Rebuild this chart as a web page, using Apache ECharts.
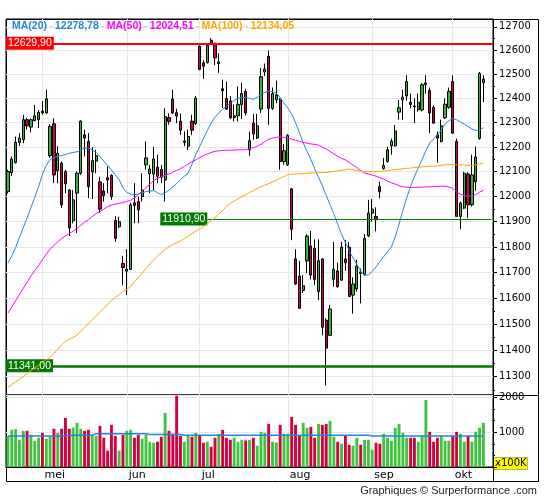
<!DOCTYPE html>
<html><head><meta charset="utf-8">
<script src="https://cdn.jsdelivr.net/npm/echarts@6/dist/echarts.min.js"></script>
<style>html,body{margin:0;padding:0;background:#fff}#c{width:545px;height:500px}</style>
</head><body><div id="c"></div>
<script>
// ---------- DATA ----------
const monthLabels = ['mei', 'jun', 'jul', 'aug', 'sep', 'okt'];
const monthStarts = [9, 31, 50, 73, 95, 116];
const slotCount = 127; // 125 trading days + 2 empty slots on the right

// [open, close, low, high]
const candles = [
[12020,12101,12012,12108],[12096,12151,12083,12162],[12137,12219,12133,12243],[12219,12237,12205,12257],[12230,12312,12216,12332],
[12312,12287,12272,12320],[12282,12312,12260,12317],[12308,12328,12306,12373],[12312,12342,12278,12352],[12347,12340,12333,12389],
[12340,12398,12336,12436],[12165,12284,12156,12294],[12295,12087,12054,12318],[12104,12175,12054,12204],[12135,11967,11954,12141],
[12101,12051,12014,12108],[12026,11875,11843,12030],[11904,11987,11893,12026],[12014,12094,11855,12101],[12094,12306,12087,12310],
[12250,12237,12162,12271],[12223,12040,11994,12257],[12099,12145,11990,12200],[12143,12165,12094,12189],[12059,11950,11935,12080],
[12022,12004,11980,12054],[12076,12067,12014,12122],[12085,12000,11987,12090],[11905,11834,11820,11922],[11880,11900,11874,11920],
[11735,11719,11650,11765],[11705,11712,11612,11791],[11712,11967,11710,11976],[11975,11965,11894,12054],[11980,11947,11894,12000],
[12000,12026,11980,12094],[12128,12156,12108,12223],[12091,12111,12014,12128],[12091,12152,12026,12200],[12118,12082,12054,12169],
[12110,12078,12054,12128],[12067,12325,11980,12359],[12321,12305,12291,12338],[12397,12340,12336,12436],[12341,12327,12298,12357],
[12306,12269,12250,12338],[12219,12225,12204,12264],[12204,12243,12189,12271],[12306,12269,12250,12332],[12296,12401,12291,12410],
[12618,12521,12517,12621],[12548,12534,12481,12559],[12549,12621,12545,12621],[12643,12630,12624,12652],[12630,12569,12538,12632],
[12545,12552,12506,12588],[12440,12432,12360,12477],[12400,12356,12352,12470],[12389,12320,12315,12410],[12321,12328,12305,12375],
[12328,12375,12305,12450],[12375,12420,12315,12465],[12429,12340,12330,12440],[12189,12226,12165,12264],[12298,12254,12230,12336],
[12237,12287,12233,12336],[12356,12490,12340,12526],[12510,12522,12493,12545],[12575,12359,12291,12600],[12359,12420,12352,12445],
[12394,12415,12380,12474],[12394,12141,12108,12401],[12141,12185,12128,12213],[12128,12248,12124,12253],[12031,11870,11827,12035],
[11753,11655,11651,11791],[11686,11561,11560,11746],[11630,11648,11620,11690],[11745,11843,11697,11850],[11804,11690,11673,11863],
[11795,11673,11651,11830],[11626,11746,11593,11830],[11753,11488,11457,11756],[11515,11408,11266,11522],[11457,11558,11455,11574],
[11673,11712,11644,11820],[11706,11644,11641,11738],[11670,11799,11667,11820],[11753,11738,11706,11827],[11799,11606,11606,11820],
[11612,11655,11540,11681],[11636,11725,11626,11749],[11702,11696,11580,11715],[11693,11834,11690,11851],[11844,11934,11839,11987],
[11934,11950,11900,11990],[11921,11908,11862,11957],[12040,12020,11993,12060],[12113,12125,12108,12156],[12141,12189,12137,12202],
[12205,12224,12169,12235],[12205,12266,12202,12291],[12343,12361,12312,12394],[12394,12405,12312,12436],[12410,12470,12390,12496],
[12384,12375,12359,12420],[12368,12365,12298,12400],[12353,12384,12345,12420],[12352,12457,12346,12464],[12457,12464,12420,12496],
[12433,12340,12257,12445],[12363,12298,12298,12372],[12250,12237,12137,12264],[12223,12287,12219,12312],[12320,12376,12315,12400],
[12363,12429,12357,12445],[12470,12257,12255,12496],[12223,11921,11921,12235],[11921,11974,11871,11980],[11954,12094,11950,12100],
[12091,11967,11914,12098],[11967,12087,11960,12169],[12060,12160,12023,12202],[12235,12504,12230,12510],[12465,12480,12385,12496]
];

const ma20 = [11736,11765,11797,11838,11876,11915,11956,11997,12040,12090,
12125,12150,12157,12163,12166,12170,12175,12178,12181,12188,
12197,12196,12189,12178,12162,12143,12126,12107,12088,12068,
12035,12017,12010,12008,12010,12015,12020,12022,12024,12016,
12008,12015,12026,12038,12052,12068,12082,12094,12130,12170,
12202,12235,12268,12298,12322,12340,12355,12368,12379,12392,
12400,12405,12404,12400,12396,12405,12417,12425,12431,12428,
12421,12405,12380,12360,12335,12300,12260,12217,12183,12150,
12112,12078,12043,12005,11968,11930,11890,11850,11818,11785,
11757,11731,11705,11688,11690,11704,11722,11742,11762,11782,
11800,11840,11890,11945,11995,12040,12080,12115,12150,12185,
12217,12233,12250,12270,12295,12308,12317,12312,12303,12294,
12284,12274,12268,12270,12279];

const ma50 = [11542,11566,11590,11614,11638,11662,11686,11708,11728,11750,
11771,11792,11806,11820,11834,11843,11853,11862,11873,11886,
11898,11908,11920,11932,11940,11950,11960,11966,11970,11973,
11977,11980,11985,11995,12008,12022,12036,12050,12065,12073,
12080,12086,12091,12098,12105,12112,12122,12131,12140,12148,
12157,12166,12172,12178,12183,12185,12186,12187,12187,12188,
12189,12189,12189,12193,12198,12203,12212,12222,12232,12237,
12240,12243,12240,12236,12232,12228,12224,12219,12216,12213,
12211,12208,12200,12192,12182,12172,12163,12154,12148,12138,
12127,12117,12105,12095,12091,12087,12082,12076,12070,12062,
12056,12050,12044,12039,12038,12037,12037,12037,12038,12039,
12039,12040,12041,12042,12042,12038,12033,12020,12010,12004,
12002,12002,12008,12018,12025];

const ma100 = [11260,11270,11280,11290,11300,11312,11323,11333,11344,11354,
11364,11373,11388,11404,11420,11434,11442,11449,11458,11472,
11487,11502,11516,11531,11546,11561,11577,11591,11603,11614,
11626,11634,11645,11665,11680,11697,11715,11733,11750,11764,
11777,11790,11801,11809,11816,11824,11832,11842,11852,11862,
11871,11880,11892,11904,11916,11930,11945,11960,11973,11982,
11991,12000,12007,12016,12024,12032,12040,12046,12052,12058,
12066,12074,12081,12088,12090,12091,12092,12093,12094,12095,
12095,12096,12096,12097,12099,12101,12104,12106,12109,12111,
12108,12105,12102,12100,12100,12100,12101,12101,12103,12105,
12107,12109,12110,12112,12114,12115,12117,12118,12120,12121,
12122,12122,12124,12126,12128,12129,12129,12128,12128,12127,
12126,12125,12128,12132,12134];

// volume in units of 100K
const volumes = [895,1067,1086,781,1038,1038,924,752,838,981,
810,876,1095,981,1095,1410,1095,1133,1267,1095,
1038,1067,914,895,1181,838,467,1210,895,467,
924,1038,1067,838,924,810,924,724,695,724,
867,1552,1038,952,2048,895,724,895,867,981,
895,695,724,581,838,952,1067,838,781,838,
724,781,762,781,838,610,1010,981,1238,
724,705,1210,952,952,1438,1210,895,1267,1124,
1152,838,1238,1210,1238,1324,867,724,667,895,
638,610,838,638,781,781,495,695,667,952,
838,752,1124,1238,981,838,838,838,724,895,
1924,1010,724,838,895,752,752,895,1010,952,
724,895,724,1010,1124,1267];

// average-volume steps: [fromIndex, toIndex, level]
const volAvgSegments = [[0,15,886],[16,22,914],[23,36,952],[37,45,933],[46,94,914],[95,124,890]];

const yTickValues = [11300,11400,11500,11600,11700,11800,11900,12000,12100,12200,12300,12400,12500,12600,12700];
const yMinorValues = [11250,11350,11450,11550,11650,11750,11850,11950,12050,12150,12250,12350,12450,12550,12650];

const levelValues = [12629.9, 11910.9, 11341];
const levelTexts = ['12629,90', '11910,90', '11341,00'];
const levelStartIndex = [null, 52, null];

const maNames = ['MA(20)', 'MA(50)', 'MA(100)'];
const maLastTexts = ['12278,78', '12024,51', '12134,05'];

// ---------- BUILD ----------
const UP = '#36b536', DOWN = '#d5003f';
const VUP = '#3ec43e';
const C20 = '#1f87e0', C50 = '#ff00ff', C100 = '#ffa500';
const GRID = '#e6e6e6';

const cats = [];
for (let i = 0; i < slotCount; i++) cats.push(String(i));

const volData = volumes.map((v, i) => ({
  value: v,
  itemStyle: { color: candles[i][1] >= candles[i][0] ? VUP : DOWN }
}));
const volAvg = [];
volAvgSegments.forEach(s => { for (let i = s[0]; i <= s[1]; i++) volAvg[i] = s[2]; });

const isMonthStart = (idx) => monthStarts.indexOf(idx) >= 0;

const lvlColors = ['#ff0000', '#007a00', '#007a00'];
const lvlWidths = [2, 1, 2.6];
const markData = levelValues.map((v, k) => {
  const label = {
    show: true,
    formatter: levelTexts[k],
    position: levelStartIndex[k] == null ? 'insideStart' : 'start',
    distance: 0,
    color: '#fff',
    backgroundColor: k === 0 ? '#ff0000' : '#007a00',
    padding: [1, 2, 1, 2],
    fontSize: 10.5,
    lineHeight: 11,
    fontFamily: 'Liberation Sans, Arial, sans-serif'
  };
  const lineStyle = { color: lvlColors[k], width: lvlWidths[k], type: 'solid' };
  if (levelStartIndex[k] == null) {
    return { yAxis: v, label, lineStyle };
  }
  return [{ coord: [levelStartIndex[k], v], label, lineStyle }, { coord: [slotCount - 1, v] }];
});

const LF = 10.5;
const legendRich = {
  b: { color: C20, fontSize: LF, fontFamily: 'Liberation Sans, Arial' },
  m: { color: C50, fontSize: LF, fontFamily: 'Liberation Sans, Arial' },
  o: { color: C100, fontSize: LF, fontFamily: 'Liberation Sans, Arial' },
  s: { color: '#c8c8c8', fontSize: 9, padding: [0, 2.5, 0, 2.5], fontFamily: 'Liberation Sans, Arial' }
};
const styleKeys = ['b', 'm', 'o'];
const legendText = maNames.map((n, k) =>
  '{' + styleKeys[k] + '|' + n + '}{s|-}{' + styleKeys[k] + '|' + maLastTexts[k] + '}'
).join('{s|-}');

const axisFont = 'DejaVu Sans, Verdana, sans-serif';

const option = {
  animation: false,
  backgroundColor: '#fff',
  title: {
    text: legendText, left: 12, top: 21, padding: 0,
    textStyle: { rich: legendRich, fontSize: LF }
  },
  grid: [
    { left: 6, right: 52, top: 19, height: 376, show: true, borderColor: '#000', borderWidth: 1, backgroundColor: 'transparent' },
    { left: 6, right: 52, top: 395, height: 72, show: true, borderColor: '#000', borderWidth: 1, backgroundColor: 'transparent' }
  ],
  xAxis: [
    {
      type: 'category', gridIndex: 0, data: cats, boundaryGap: true,
      axisLine: { show: false }, axisTick: { show: false }, axisLabel: { show: false },
      splitLine: { show: true, alignWithLabel: true, interval: (idx) => isMonthStart(idx), lineStyle: { color: GRID, width: 1 } }
    },
    {
      type: 'category', gridIndex: 1, data: cats, boundaryGap: true,
      axisLine: { show: true, lineStyle: { color: '#000', width: 1 } },
      axisTick: { show: false },
      axisLabel: {
        show: true, interval: (idx) => isMonthStart(idx),
        formatter: (val, idx) => monthLabels[monthStarts.indexOf(Number(val))] || '',
        align: 'left', color: '#000', fontSize: 11, fontFamily: axisFont, margin: 3, padding: [0, 0, 0, 2]
      },
      splitLine: { show: true, alignWithLabel: true, interval: (idx) => isMonthStart(idx), lineStyle: { color: GRID, width: 1 } }
    }
  ],
  yAxis: [
    {
      type: 'log', logBase: 10, gridIndex: 0, position: 'right', min: 11231, max: 12733, scale: true,
      axisLine: { show: true, lineStyle: { color: '#000', width: 1 } },
      axisTick: { show: true, length: 4, customValues: yTickValues, lineStyle: { color: '#000' } },
      axisLabel: { show: true, customValues: yTickValues, color: '#000', fontSize: 10, fontFamily: axisFont, margin: 6,
                   formatter: (v) => String(Math.round(v)) },
      splitLine: { show: true, lineStyle: { color: GRID, width: 1 } }
    },
    {
      type: 'log', logBase: 10, gridIndex: 0, position: 'right', min: 11231, max: 12733,
      axisLine: { show: false },
      axisTick: { show: true, length: 2, customValues: yMinorValues, lineStyle: { color: '#000' } },
      axisLabel: { show: false },
      splitLine: { show: false }
    },
    {
      type: 'value', gridIndex: 1, position: 'right', min: 0, max: 2066, interval: 1000,
      axisLine: { show: true, lineStyle: { color: '#000', width: 1 } },
      axisTick: { show: true, length: 4, lineStyle: { color: '#000' } },
      minorTick: { show: true, splitNumber: 3, length: 2, lineStyle: { color: '#000' } },
      axisLabel: { show: true, color: '#000', fontSize: 10, fontFamily: axisFont, margin: 6,
                   formatter: (v) => (v === 0 ? '' : String(v)) },
      splitLine: { show: true, lineStyle: { color: GRID, width: 1 } }
    }
  ],
  series: [
    {
      type: 'candlestick', xAxisIndex: 0, yAxisIndex: 0, data: candles, barWidth: 2.7,
      itemStyle: { color: UP, color0: DOWN, borderColor: '#000', borderColor0: '#000', borderWidth: 1 },
      markLine: { silent: true, symbol: ['none', 'none'], animation: false, data: markData }
    },
    { type: 'line', xAxisIndex: 0, yAxisIndex: 0, data: ma20, showSymbol: false, lineStyle: { color: C20, width: 1 }, z: 5 },
    { type: 'line', xAxisIndex: 0, yAxisIndex: 0, data: ma50, showSymbol: false, lineStyle: { color: C50, width: 1 }, z: 5 },
    { type: 'line', xAxisIndex: 0, yAxisIndex: 0, data: ma100, showSymbol: false, lineStyle: { color: C100, width: 1 }, z: 5 },
    { type: 'bar', xAxisIndex: 1, yAxisIndex: 2, data: volData, barWidth: 2.9 },
    { type: 'line', xAxisIndex: 1, yAxisIndex: 2, data: volAvg, step: 'middle', showSymbol: false, lineStyle: { color: C20, width: 1.5 }, z: 5 }
  ],
  graphic: [
    { type: 'rect', shape: { x: 6.5, y: 19.5, width: 532, height: 462 }, style: { fill: 'none', stroke: '#000', lineWidth: 1 }, silent: true },
    { type: 'line', shape: { x1: 493, y1: 395.5, x2: 538.5, y2: 395.5 }, style: { stroke: '#000', lineWidth: 1 }, silent: true },
    { type: 'line', shape: { x1: 493.5, y1: 467, x2: 493.5, y2: 481.5 }, style: { stroke: '#000', lineWidth: 1 }, silent: true },
    { type: 'text', x: 494, y: 457.5, style: { text: 'x100K', fill: '#000', font: '10px DejaVu Sans', backgroundColor: '#ffff00', padding: [1, 1, 1, 1], borderColor: '#666', borderWidth: 0.5 }, silent: true },
    { type: 'text', x: 537, y: 485, style: { text: 'Graphiques \u00A9 Surperformance .com', fill: '#222', font: '11px Liberation Sans', align: 'right', textAlign: 'right' }, silent: true }
  ]
};

const chart = echarts.init(document.getElementById('c'), null, { renderer: 'canvas' });
chart.setOption(option);
</script>
</body></html>
